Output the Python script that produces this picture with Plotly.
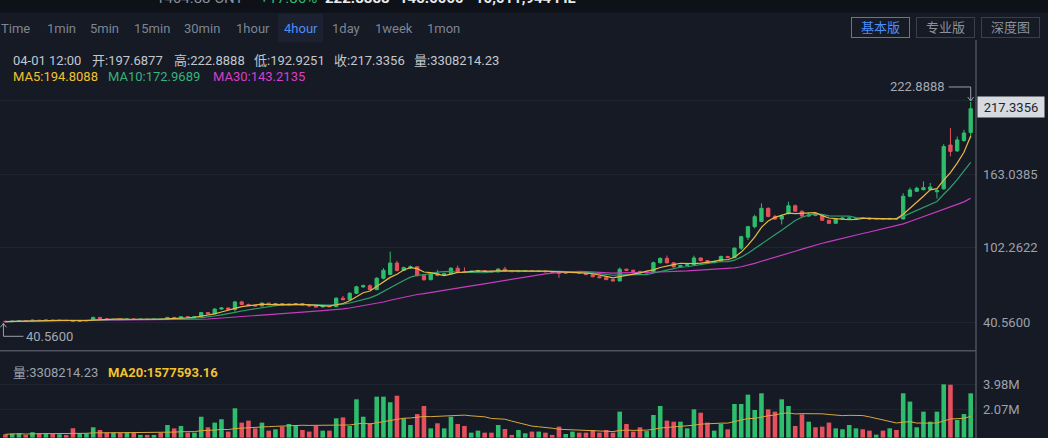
import plotly.graph_objects as go

# ---- 4-hour candles -------------------------------------------------------
opens = [41.4, 41.1, 41.5, 41.9, 41.7, 42.3, 41.9, 42.4, 42.1, 42.2,
         42.0, 41.5, 41.9, 42.1, 44.6, 43.5, 42.9, 43.0, 42.8, 43.3,
         43.0, 43.1, 43.0, 43.2, 43.1, 44.6, 43.9, 45.1, 44.9, 45.3,
         48.6, 47.6, 51.5, 52.4, 51.2, 57.4, 55.3, 54.6, 54.1, 56.4,
         55.4, 56.0, 54.9, 55.5, 55.9, 54.9, 54.1, 53.3, 54.0, 53.5,
         60.5, 59.3, 64.6, 69.9, 70.8, 67.6, 77.0, 80.2, 89.6, 83.5,
         85.8, 86.5, 79.2, 75.8, 81.0, 79.5, 80.8, 85.3, 82.6, 81.9,
         82.8, 83.4, 82.7, 82.3, 84.6, 82.8, 82.5, 83.0, 83.2, 82.6,
         83.0, 82.4, 82.0, 81.2, 81.9, 82.2, 81.3, 80.0, 78.3, 77.5,
         75.9, 74.8, 84.5, 83.6, 82.7, 81.4, 82.0, 89.9, 93.5, 89.8,
         86.4, 87.6, 88.3, 93.8, 91.6, 89.9, 91.0, 95.0, 94.1, 101.9,
         111.0, 119.7, 124.0, 134.9, 128.2, 126.0, 130.5, 137.0, 132.5, 128.5,
         130.6, 129.0, 125.0, 122.5, 126.0, 126.2, 125.7, 127.1, 126.7, 126.0,
         126.4, 125.9, 126.5, 126.1, 144.9, 149.0, 150.3, 150.6, 148.6, 151.0,
         187.3, 182.4, 191.0, 197.6877]
highs = [41.9, 41.8, 42.3, 42.4, 42.6, 42.6, 42.7, 42.6, 42.5, 42.4,
         42.3, 42.2, 42.3, 45.2, 44.9, 43.7, 43.3, 43.2, 43.6, 43.5,
         43.3, 43.3, 43.4, 43.5, 45.0, 45.0, 45.4, 45.5, 45.6, 49.2,
         49.0, 52.3, 53.0, 52.8, 58.3, 58.4, 56.0, 55.0, 56.9, 56.8,
         56.5, 56.3, 55.8, 56.3, 56.2, 55.2, 54.5, 54.3, 54.3, 61.2,
         62.4, 65.5, 70.8, 71.8, 72.0, 77.9, 85.4, 99.0, 91.4, 86.7,
         87.6, 87.0, 80.0, 81.8, 84.0, 81.6, 86.2, 87.5, 86.0, 83.2,
         83.9, 83.8, 83.1, 85.2, 86.5, 83.1, 83.4, 83.6, 83.5, 83.3,
         83.3, 82.6, 82.4, 82.3, 82.5, 82.4, 81.6, 80.6, 79.0, 78.4,
         76.6, 85.9, 85.0, 84.2, 83.1, 82.5, 90.8, 94.2, 95.8, 90.3,
         88.2, 88.8, 95.7, 94.2, 92.0, 91.6, 95.8, 95.6, 102.6, 112.2,
         120.4, 129.6, 139.0, 135.6, 129.5, 129.6, 140.4, 138.0, 133.2, 131.2,
         131.0, 129.6, 125.4, 126.8, 127.4, 127.5, 126.8, 127.6, 127.0, 126.9,
         126.7, 127.0, 126.9, 147.5, 152.0, 152.8, 157.2, 155.9, 151.0, 188.0,
         201.3, 194.3, 199.8, 222.8888]
lows = [40.56, 40.9, 41.2, 41.5, 41.5, 41.6, 41.7, 41.8, 41.8, 41.9,
        41.2, 41.3, 41.6, 41.9, 43.1, 42.6, 42.5, 42.6, 42.6, 42.8,
        42.8, 42.9, 42.8, 42.9, 42.9, 43.6, 43.7, 44.6, 44.6, 45.0,
        47.2, 47.3, 51.0, 50.8, 49.4, 54.8, 54.2, 53.8, 53.9, 55.0,
        55.0, 54.6, 54.3, 55.1, 54.6, 53.8, 52.9, 52.9, 53.1, 53.2,
        58.7, 58.9, 63.9, 69.0, 67.0, 67.2, 76.2, 79.5, 82.5, 83.0,
        84.9, 78.5, 75.0, 75.3, 78.6, 79.1, 80.4, 82.0, 81.3, 81.5,
        82.4, 82.3, 81.9, 82.0, 82.3, 82.2, 82.1, 82.5, 82.3, 82.3,
        82.2, 81.8, 77.3, 80.9, 81.4, 81.0, 79.6, 77.8, 77.1, 75.4,
        74.2, 74.4, 83.1, 82.2, 80.9, 81.0, 81.7, 89.2, 89.2, 85.8,
        86.0, 87.2, 88.0, 91.0, 89.2, 89.5, 90.6, 93.5, 93.8, 100.5,
        108.6, 118.3, 123.5, 127.5, 125.4, 121.5, 130.0, 131.8, 127.8, 127.9,
        128.3, 124.5, 121.8, 122.1, 125.7, 125.8, 125.3, 126.3, 125.6, 125.7,
        125.5, 125.6, 125.7, 125.8, 144.3, 148.5, 149.8, 150.2, 143.1, 150.5,
        177.9, 181.6, 189.8, 192.9251]
closes = [41.1, 41.5, 41.9, 41.7, 42.3, 41.9, 42.4, 42.1, 42.2, 42.0,
          41.5, 41.9, 42.1, 44.6, 43.5, 42.9, 43.0, 42.8, 43.3, 43.0,
          43.1, 43.0, 43.2, 43.1, 44.6, 43.9, 45.1, 44.9, 45.3, 48.6,
          47.6, 51.5, 52.4, 51.2, 57.4, 55.3, 54.6, 54.1, 56.4, 55.4,
          56.0, 54.9, 55.5, 55.9, 54.9, 54.1, 53.3, 54.0, 53.5, 60.5,
          59.3, 64.6, 69.9, 70.8, 67.6, 77.0, 83.6, 89.6, 83.5, 85.8,
          86.5, 79.2, 75.8, 81.0, 79.5, 80.8, 85.3, 82.6, 81.9, 82.8,
          83.4, 82.7, 82.3, 84.6, 82.8, 82.5, 83.0, 83.2, 82.6, 83.0,
          82.4, 82.0, 81.2, 81.9, 82.2, 81.3, 80.0, 78.3, 77.5, 75.9,
          74.8, 84.5, 83.6, 82.7, 81.4, 82.0, 89.9, 93.5, 89.8, 86.4,
          87.6, 88.3, 93.8, 91.6, 89.9, 91.0, 95.0, 94.1, 101.9, 111.4,
          119.7, 128.0, 134.9, 128.2, 126.0, 128.5, 137.0, 132.5, 128.5, 129.3,
          129.0, 125.0, 122.5, 126.0, 126.8, 126.9, 126.2, 126.7, 126.0, 126.4,
          125.9, 126.5, 126.1, 144.916, 150.1, 151.5, 152.0, 152.5, 149.545, 186.0,
          182.0, 191.5, 197.2084, 217.3356]
# traded amount per candle, in millions
volume_m = [0.25, 0.30, 0.32, 0.20, 0.40, 0.32, 0.32, 0.27, 0.25, 0.20,
            0.70, 0.32, 0.32, 0.77, 0.57, 0.37, 0.37, 0.37, 0.40, 0.37,
            0.20, 0.20, 0.20, 0.37, 0.94, 0.69, 0.87, 0.37, 0.37, 1.56,
            0.77, 1.12, 1.37, 0.45, 2.19, 1.12, 1.27, 0.69, 1.12, 0.52,
            0.62, 0.82, 1.02, 0.94, 0.57, 0.45, 0.87, 0.52, 0.52, 1.44,
            1.51, 0.87, 2.86, 1.56, 1.07, 3.06, 3.06, 2.64, 3.13, 1.44,
            0.94, 1.76, 2.36, 0.69, 1.07, 0.69, 1.56, 1.02, 0.87, 0.37,
            0.52, 0.37, 0.37, 0.94, 0.64, 0.20, 0.57, 0.32, 0.45, 0.45,
            0.37, 0.20, 0.82, 0.27, 0.45, 0.37, 0.37, 0.57, 0.37, 0.57,
            0.37, 1.94, 1.02, 0.45, 0.77, 0.49, 1.69, 2.36, 1.27, 1.19,
            1.19, 0.69, 2.11, 1.86, 1.12, 0.52, 1.02, 0.62, 2.51, 2.51,
            3.21, 2.06, 3.31, 2.11, 1.94, 2.86, 2.36, 0.87, 1.74, 1.19,
            0.77, 0.82, 1.12, 0.69, 0.62, 0.94, 0.69, 0.62, 0.52, 0.22,
            0.52, 0.693649, 0.57, 3.31, 2.69, 0.77, 1.94, 1.19, 1.94, 3.98,
            3.95, 1.32, 1.76, 3.30821423]

price_ticks = [40.56, 102.2622, 163.0385, 224.3]
price_tick_text = ["40.5600", "102.2622", "163.0385", ""]
volume_ticks = [2.07e6, 3.98e6]
volume_tick_text = ["2.07M", "3.98M"]

periods = ["Time", "1min", "5min", "15min", "30min", "1hour", "4hour", "1day", "1week", "1mon"]
active_period = "4hour"

# ---- styling --------------------------------------------------------------
BG = "#151a25"
GREEN = "#2ebd6c"
RED = "#e5505d"
C_MA5, C_MA10, C_MA30 = "#e8b945", "#2f9e6c", "#c63cc0"
LABEL_GRAY = "#9ca2ac"
FONT = "Roboto, 'Noto Sans CJK SC', sans-serif"

W, H = 1048, 438
PLOT_W = 976          # plot area spans x 0..976 px, axis labels to its right
PX_PER_BAR = 6.75
FIRST_BAR_PX = 5.45

volumes = [v * 1e6 for v in volume_m]
idx = list(range(len(closes)))


def moving_average(vals, n):
    out = []
    for i in range(len(vals)):
        win = vals[max(0, i - n + 1): i + 1]
        out.append(sum(win) / len(win))
    return out


ma5 = moving_average(closes, 5)
ma10 = moving_average(closes, 10)
ma30 = moving_average(closes, 30)
vol_ma20 = moving_average(volumes, 20)


def pxx(x):   # pixel x -> paper x
    return x / PLOT_W


def pxy(y):   # pixel y -> paper y
    return (H - y) / H


# price panel: pixels 40..350, volume panel: 352..438
price_dom = [pxy(350), pxy(40)]
vol_dom = [0, pxy(352)]
price_per_px = 0.8276
price_range = [40.56 - price_per_px * (350 - 322.3), 40.56 + price_per_px * (322.3 - 40)]
vol_per_px = 0.0747e6
vol_range = [-(438 - 437.6) * vol_per_px, (437.6 - 352) * vol_per_px]
x0 = -FIRST_BAR_PX / PX_PER_BAR
x_range = [x0, x0 + PLOT_W / PX_PER_BAR]

fig = go.Figure()

fig.add_trace(go.Candlestick(
    x=idx, open=opens, high=highs, low=lows, close=closes,
    increasing=dict(line=dict(color=GREEN, width=1), fillcolor=GREEN),
    decreasing=dict(line=dict(color=RED, width=1), fillcolor=RED),
    whiskerwidth=0, hoverinfo="skip", showlegend=False,
    xaxis="x", yaxis="y"))

for series, col in [(ma30, C_MA30), (ma10, C_MA10), (ma5, C_MA5)]:
    fig.add_trace(go.Scatter(x=idx, y=series, mode="lines",
                             line=dict(color=col, width=1.2),
                             hoverinfo="skip", showlegend=False,
                             xaxis="x", yaxis="y"))

bar_colors = [GREEN if c >= o else RED for o, c in zip(opens, closes)]
fig.add_trace(go.Bar(x=idx, y=volumes, marker=dict(color=bar_colors, line=dict(width=0)),
                     hoverinfo="skip", showlegend=False, xaxis="x2", yaxis="y2"))
fig.add_trace(go.Scatter(x=idx, y=vol_ma20, mode="lines",
                         line=dict(color="#d9a73c", width=1),
                         hoverinfo="skip", showlegend=False, xaxis="x2", yaxis="y2"))

axis_font = dict(family=FONT, size=13, color=LABEL_GRAY)
fig.update_layout(
    width=W, height=H, margin=dict(l=0, r=W - PLOT_W, t=0, b=0),
    paper_bgcolor=BG, plot_bgcolor=BG,
    bargap=0.32, boxgap=0.3,
    xaxis=dict(domain=[0, 1], range=x_range, anchor="y", showgrid=False, zeroline=False,
               showticklabels=False, ticks="", rangeslider=dict(visible=False), fixedrange=True),
    xaxis2=dict(domain=[0, 1], range=x_range, anchor="y2", showgrid=False, zeroline=False,
                showticklabels=False, ticks="", fixedrange=True),
    yaxis=dict(domain=price_dom, range=price_range, side="right", anchor="x",
               tickvals=price_ticks, ticktext=price_tick_text, tickfont=axis_font,
               ticklabelstandoff=6, showgrid=True, gridcolor="#1f2431", gridwidth=1,
               zeroline=False, ticks="", showline=False, fixedrange=True),
    yaxis2=dict(domain=vol_dom, range=vol_range, side="right", anchor="x2",
                tickvals=volume_ticks, ticktext=volume_tick_text, tickfont=axis_font,
                ticklabelstandoff=6, showgrid=True, gridcolor="#1f2431", gridwidth=1,
                zeroline=False, ticks="", showline=False, fixedrange=True),
)

shapes = []
# dark strip along the very top
shapes.append(dict(type="rect", xref="paper", yref="paper", x0=0, x1=W / PLOT_W,
                   y0=pxy(12.5), y1=1, fillcolor="#0e1118", line=dict(width=0), layer="below"))
# highlighted period tab
shapes.append(dict(type="rect", xref="paper", yref="paper", x0=pxx(278), x1=pxx(323),
                   y0=pxy(42), y1=pxy(14), fillcolor="#1b2131", line=dict(width=0), layer="below"))
# panel separators
shapes.append(dict(type="line", xref="paper", yref="paper", x0=1, x1=1,
                   y0=0, y1=pxy(40), line=dict(color="#5b606c", width=1.2)))
shapes.append(dict(type="line", xref="paper", yref="paper", x0=0, x1=1,
                   y0=pxy(350.8), y1=pxy(350.8), line=dict(color="#4f5460", width=1.5)))
# pointer to the highest high
hi_i = max(idx, key=lambda i: highs[i])
lo_i = min(idx, key=lambda i: lows[i])
shapes.append(dict(type="path", xref="x", yref="y", xsizemode="pixel", ysizemode="pixel",
                   xanchor=hi_i, yanchor=highs[hi_i],
                   path="M -22,15 L 0,15 L 0,1 M -3,5 L 0,1 L 3,5",
                   line=dict(color="#9aa0aa", width=1)))
# pointer to the lowest low
shapes.append(dict(type="path", xref="x", yref="y", xsizemode="pixel", ysizemode="pixel",
                   xanchor=lo_i, yanchor=lows[lo_i],
                   path="M -2,-1 L -2,-14 L 18,-14 M -5,-5 L -2,-1 L 1,-5",
                   line=dict(color="#9aa0aa", width=1)))

ann = []


def text(x, y, s, color, size=13, anchor="left", bold=False):
    ann.append(dict(xref="paper", yref="paper", x=pxx(x), y=pxy(y), text=f"<b>{s}</b>" if bold else s,
                    showarrow=False, xanchor=anchor, yanchor="middle", borderpad=0,
                    font=dict(family=FONT, size=size, color=color)))


# ticker strip, mostly scrolled out of view
text(155, -2, "1464.88 CNY", "#8a909c", 15)
text(259, -2, "+17.86%", GREEN, 15)
text(324, -2, "222.8888", "#e9ebee", 15, bold=True)
text(398, -2, "145.0000", "#e9ebee", 15, bold=True)
text(474, -2, "10,011,944 FIL", "#e9ebee", 15, bold=True)

# period tabs
tab_x = [0, 46, 89, 133, 183, 235, 283, 331, 374, 426]
for lab, x in zip(periods, tab_x):
    text(x, 28.5, lab, "#4b8ff7" if lab == active_period else "#7d8593", 13)

# view buttons
for lab, cx, col, border in [("基本版", 880, "#4b8ff7", "#3a7de0"),
                             ("专业版", 945.5, "#8b919c", "#3a3f4b"),
                             ("深度图", 1010, "#8b919c", "#3a3f4b")]:
    ann.append(dict(xref="paper", yref="paper", x=pxx(cx), y=pxy(27), text=lab, showarrow=False,
                    xanchor="center", yanchor="middle", width=57, height=19, borderpad=0,
                    bordercolor=border, borderwidth=1,
                    font=dict(family=FONT, size=13, color=col)))

# last-candle readout
last = len(closes) - 1
info = [("04-01 12:00", 12), (f"开:{opens[last]:.4f}", 91), (f"高:{highs[last]:.4f}", 173),
        (f"低:{lows[last]:.4f}", 253), (f"收:{closes[last]:.4f}", 333), (f"量:{volumes[last]:.2f}", 413)]
for s, x in info:
    text(x, 60.5, s, "#c3c7ce", 13)
text(12, 77, f"MA5:{ma5[last]:.4f}", "#f2c12e", 13)
text(107, 77, f"MA10:{ma10[last]:.4f}", "#37b27a", 13)
text(212, 77, f"MA30:{ma30[last]:.4f}", "#d63fca", 13)
text(12, 372.5, f"量:{volumes[last]:.2f}", "#9ca2ac", 13)
text(107, 372.5, f"MA20:{vol_ma20[last]:.2f}", "#f2c12e", 13, bold=True)

# high / low value tags
ann.append(dict(xref="x", yref="y", x=hi_i, y=highs[hi_i], text=f"{highs[hi_i]:.4f}",
                showarrow=False, xanchor="right", yanchor="middle", xshift=-24, yshift=15,
                font=dict(family=FONT, size=13, color="#a3a9b3")))
ann.append(dict(xref="x", yref="y", x=lo_i, y=lows[lo_i], text=f"{lows[lo_i]:.4f}",
                showarrow=False, xanchor="left", yanchor="middle", xshift=19, yshift=-14,
                font=dict(family=FONT, size=13, color="#a3a9b3")))

# last price tag on the price axis
ann.append(dict(xref="paper", yref="y", x=pxx(977), y=closes[last], text=f"{closes[last]:.4f}",
                showarrow=False, xanchor="left", yanchor="middle", yshift=2,
                width=66, height=20, borderpad=0, bgcolor="#d7dbe0",
                font=dict(family=FONT, size=13, color="#1e2330")))

fig.update_layout(shapes=shapes, annotations=ann)
fig.write_html("out.html", config={"displayModeBar": False})
